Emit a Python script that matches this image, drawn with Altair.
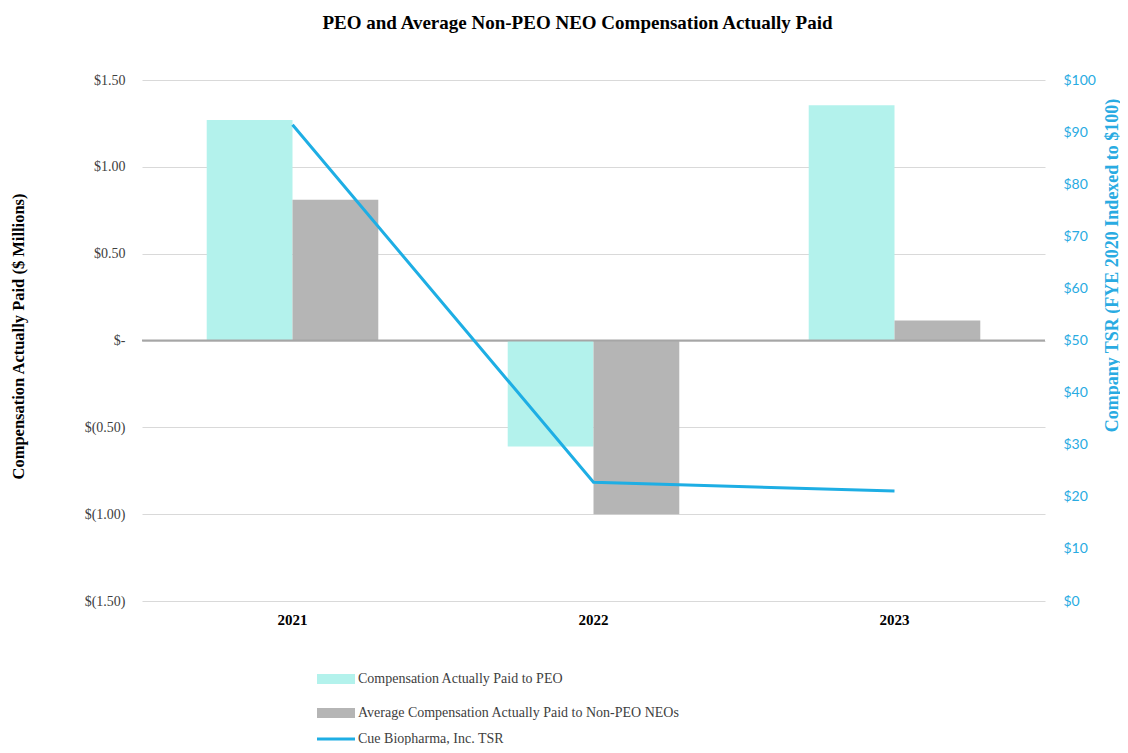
import altair as alt
import pandas as pd

years = ["2021", "2022", "2023"]
peo = [1.27, -0.61, 1.355]
non_peo = [0.81, -1.00, 0.115]
tsr = [91.4, 22.8, 21.1]

s_peo = "Compensation Actually Paid to PEO"
s_neo = "Average Compensation Actually Paid to Non-PEO NEOs"
s_tsr = "Cue Biopharma, Inc. TSR"

bars_df = pd.DataFrame(
    [{"year": y, "series": s_peo, "value": v} for y, v in zip(years, peo)]
    + [{"year": y, "series": s_neo, "value": v} for y, v in zip(years, non_peo)]
)
line_df = pd.DataFrame({"year": years, "series": [s_tsr] * 3, "tsr": tsr})
zero_df = pd.DataFrame({"value": [0.0]})

SERIF = "Liberation Serif"
BLUE = "#29abe2"
LINE_BLUE = "#1eaee4"

xenc = alt.X(
    "year:N",
    sort=years,
    scale=alt.Scale(paddingInner=0.43, paddingOuter=0.215),
    axis=alt.Axis(
        title=None, labelAngle=0, domain=False, ticks=False, labelPadding=11,
        labelFont=SERIF, labelFontSize=15, labelFontWeight="bold", labelColor="#000000",
    ),
)

left_axis = alt.Axis(
    values=[-1.5, -1.0, -0.5, 0, 0.5, 1.0, 1.5],
    labelExpr="datum.value == 0 ? '$-' : (datum.value < 0 ? '$(' + format(-datum.value, '.2f') + ')' : '$' + format(datum.value, '.2f'))",
    title="Compensation Actually Paid ($ Millions)",
    domain=False, ticks=False, grid=True, gridColor="#d9d9d9", gridWidth=1,
    labelFont=SERIF, labelFontSize=14, labelColor="#404040", labelPadding=17,
    titleFont=SERIF, titleFontSize=16.5, titleFontWeight="bold", titleColor="#000000",
    titleAngle=270, titleX=-124, titleY=256, titleAlign="center", titleBaseline="middle",
)
yscale_left = alt.Scale(domain=[-1.5, 1.5], nice=False)

bars = alt.Chart(bars_df).mark_bar().encode(
    x=xenc,
    xOffset=alt.XOffset("series:N", sort=[s_peo, s_neo], scale=alt.Scale(paddingInner=0, paddingOuter=0)),
    y=alt.Y("value:Q", scale=yscale_left, axis=left_axis),
    fill=alt.Fill(
        "series:N",
        scale=alt.Scale(domain=[s_peo, s_neo], range=["#b3f2ec", "#b5b5b5"]),
        legend=alt.Legend(
            title=None, orient="none", legendX=187, legendY=592,
            symbolType="M-3.8,-1H3.8V1H-3.8Z", symbolSize=100, symbolStrokeWidth=0,
            labelOffset=15, rowPadding=20,
            labelFont=SERIF, labelFontSize=14, labelColor="#404040", labelLimit=500,
        ),
    ),
)

zero = alt.Chart(zero_df).mark_rule(color="#a6a6a6", strokeWidth=2).encode(
    y=alt.Y("value:Q", scale=yscale_left, axis=left_axis)
)

left_layer = alt.layer(bars, zero)

line = alt.Chart(line_df).mark_line(strokeWidth=3, color=LINE_BLUE).encode(
    x=xenc,
    y=alt.Y(
        "tsr:Q",
        scale=alt.Scale(domain=[0, 100], nice=False),
        axis=alt.Axis(
            orient="right", values=list(range(0, 101, 10)),
            labelExpr="'$' + datum.value",
            title="Company TSR (FYE 2020 Indexed to $100)",
            domain=False, ticks=False, grid=False,
            labelFont="Lato", labelFontSize=14, labelColor=BLUE, labelPadding=18,
            titleFont=SERIF, titleFontSize=18, titleFontWeight="bold", titleColor=BLUE,
            titleAngle=270, titleX=67, titleY=185, titleAlign="center", titleBaseline="middle",
        ),
    ),
    stroke=alt.Stroke(
        "series:N",
        scale=alt.Scale(domain=[s_tsr], range=[LINE_BLUE]),
        legend=alt.Legend(
            title=None, orient="none", legendX=187, legendY=652,
            symbolType="M-3.8,0H3.8", symbolSize=100, symbolStrokeWidth=3,
            labelOffset=15,
            labelFont=SERIF, labelFontSize=14, labelColor="#404040", labelLimit=500,
        ),
    ),
)

chart = (
    alt.layer(left_layer, line)
    .resolve_scale(y="independent", fill="independent", stroke="independent")
    .properties(
        width=903,
        height=521,
        background="#ffffff",
        title=alt.TitleParams(
            "PEO and Average Non-PEO NEO Compensation Actually Paid",
            font=SERIF, fontSize=19, fontWeight="bold", color="#000000",
            anchor="middle", offset=40, dx=-16,
        ),
        autosize=alt.AutoSizeParams(type="none"),
        padding={"left": 134, "top": 72, "right": 75, "bottom": 144},
    )
    .configure_view(stroke=None)
)

chart.save("out.html", embed_options={"renderer": "svg", "actions": False})
